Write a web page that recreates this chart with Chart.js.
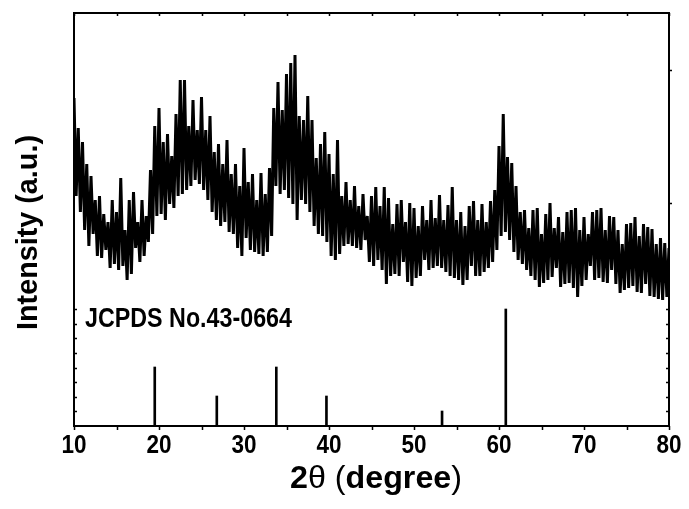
<!DOCTYPE html>
<html>
<head>
<meta charset="utf-8">
<script src="https://cdn.jsdelivr.net/npm/chart.js@4.4.0/dist/chart.umd.min.js"></script>
<style>
  html, body { margin: 0; padding: 0; background: #fff; }
  #xrd { display: block; }
</style>
</head>
<body>
<canvas id="xrd" width="689" height="509"></canvas>
<script>
// scan 10 -> 80 deg, step 0.25 deg (intensity in arbitrary units)
const scanStart = 10;
const scanStep = 0.25;
const intensity = [
  328, 230, 298, 214,  284, 196, 262, 180,  250, 192, 226, 170,  230, 168, 212, 176,
  204, 158, 226, 162,  214, 156, 248, 160,  196, 146, 226, 152,  234, 178, 204, 164,
  226, 170, 210, 184,  256, 192, 300, 210,  318, 212, 284, 206,  292, 222, 270, 218,
  312, 230, 346, 232,  346, 236, 300, 240,  326, 246, 296, 242,  329, 236, 296, 226,
  310, 214, 274, 206,  282, 200, 262, 204,  286, 194, 252, 192,  262, 178, 240, 170,
  278, 188, 244, 176,  252, 174, 226, 172,  253, 170, 232, 174,  258, 190, 318, 240,
  344, 232, 316, 236,  352, 228, 363, 222,  371, 206, 310, 226,  306, 222, 330, 214,
  306, 200, 268, 192,  282, 190, 294, 184,  272, 170, 252, 166,  286, 172, 230, 180,
  244, 182, 226, 180,  240, 178, 220, 176,  232, 186, 210, 164,  230, 160, 239, 166,
  220, 156, 239, 142,  228, 150, 202, 152,  222, 150, 226, 164,  204, 144, 223, 140,
  218, 148, 200, 150,  220, 166, 206, 156,  226, 158, 208, 160,  231, 158, 206, 154,
  221, 150, 239, 148,  206, 146, 214, 141,  200, 146, 220, 160,  225, 150, 206, 150,
  222, 154, 204, 158,  225, 164, 236, 176,  280, 190, 312, 194,  269, 186, 263, 174,
  240, 166, 214, 162,  216, 156, 198, 150,  216, 146, 218, 139,  192, 143, 212, 146,
  223, 149, 198, 158,  209, 139, 194, 142,  214, 143, 216, 138,  218, 129, 196, 140,
  209, 146, 192, 160,  214, 146, 216, 148,  218, 144, 196, 143,  210, 156, 209, 142,
  196, 133, 182, 136,  202, 138, 203, 140,  209, 134, 190, 133,  202, 142, 199, 130,
  197, 129, 182, 127,  188, 126, 183, 129,  178
];

// JCPDS No.43-0664 reference lines
const refAngles = [19.5, 26.8, 33.8, 39.7, 53.3, 60.8];
const refHeights = [59, 30, 59, 30, 15, 117];

const xTicks = [10, 20, 30, 40, 50, 60, 70, 80];
const xMinorTicks = [15, 25, 35, 45, 55, 65, 75];
const lowerPanelTicks = [14.6, 29.3, 43.9, 58.5, 73.1, 87.8, 102.4, 117];
const upperRightTicks = [223, 356];

const scanPoints = intensity.map((v, i) => ({ x: scanStart + i * scanStep, y: v }));
const refPoints = refAngles.map((a, i) => ({ x: a, y: refHeights[i] }));

const FONT = '"Liberation Sans", Arial, sans-serif';

// draw text pieces squeezed/stretched to a given width
function fitText(ctx, parts, left, baseline, width) {
  let total = 0;
  parts.forEach(p => { ctx.font = p[1]; total += ctx.measureText(p[0]).width; });
  ctx.save();
  ctx.translate(left, baseline);
  ctx.scale(width / total, 1);
  ctx.textAlign = 'left';
  ctx.textBaseline = 'alphabetic';
  let x = 0;
  parts.forEach(p => {
    ctx.font = p[1];
    ctx.fillText(p[0], x, 0);
    x += ctx.measureText(p[0]).width;
  });
  ctx.restore();
}

// frame, ticks and texts
const frame = {
  id: 'frame',
  afterDraw(chart) {
    const ctx = chart.ctx;
    const a = chart.chartArea;
    const xs = chart.scales.x;
    const ys = chart.scales.y;

    ctx.save();
    ctx.strokeStyle = '#000';
    ctx.fillStyle = '#000';
    ctx.lineWidth = 2;
    ctx.strokeRect(a.left, a.top, a.right - a.left, a.bottom - a.top);

    ctx.lineWidth = 1.5;
    ctx.beginPath();
    xTicks.concat(xMinorTicks).forEach(t => {
      const px = Math.round(xs.getPixelForValue(t)) + 0.5;
      ctx.moveTo(px, a.bottom);
      ctx.lineTo(px, a.bottom + 4);
      ctx.moveTo(px, a.top);
      ctx.lineTo(px, a.top + 3);
    });
    lowerPanelTicks.forEach(t => {
      const py = Math.round(ys.getPixelForValue(t)) + 0.5;
      ctx.moveTo(a.left, py);
      ctx.lineTo(a.left + 3, py);
      ctx.moveTo(a.right, py);
      ctx.lineTo(a.right - 3, py);
    });
    upperRightTicks.forEach(t => {
      const py = Math.round(ys.getPixelForValue(t)) + 0.5;
      ctx.moveTo(a.right, py);
      ctx.lineTo(a.right + 3, py);
    });
    ctx.stroke();

    // tick labels
    ctx.font = 'bold 25px ' + FONT;
    ctx.textAlign = 'center';
    ctx.textBaseline = 'alphabetic';
    xTicks.forEach(t => {
      ctx.save();
      ctx.translate(xs.getPixelForValue(t), 453);
      ctx.scale(0.9, 1);
      ctx.fillText(String(t), 0, 0);
      ctx.restore();
    });

    // x title
    fitText(ctx, [
      ['2', 'bold 31px ' + FONT],
      ['\u03B8', '31px ' + FONT],
      [' (', '31px ' + FONT],
      ['degree', 'bold 31px ' + FONT],
      [')', '31px ' + FONT]
    ], 290, 488, 172);

    // y title
    ctx.save();
    ctx.translate(37, 330);
    ctx.rotate(-Math.PI / 2);
    fitText(ctx, [['Intensity (a.u.)', 'bold 30px ' + FONT]], 0, 0, 195);
    ctx.restore();

    // reference card label
    fitText(ctx, [['JCPDS No.43-0664', 'bold 27px ' + FONT]], 85, 327, 207);

    ctx.restore();
  }
};

new Chart(document.getElementById('xrd'), {
  type: 'line',
  data: {
    datasets: [
      {
        type: 'line',
        data: scanPoints,
        borderColor: '#000',
        borderWidth: 3,
        pointRadius: 0,
        tension: 0,
        fill: false
      },
      {
        type: 'bar',
        data: refPoints,
        backgroundColor: '#000',
        borderWidth: 0,
        barThickness: 2
      }
    ]
  },
  options: {
    responsive: false,
    animation: false,
    devicePixelRatio: 1,
    layout: { padding: { left: 74, right: 20, top: 13, bottom: 83 } },
    plugins: {
      legend: { display: false },
      tooltip: { enabled: false }
    },
    scales: {
      x: { type: 'linear', min: 10, max: 80, offset: false, display: false },
      y: { type: 'linear', min: 0, max: 413, display: false }
    }
  },
  plugins: [frame]
});
</script>
</body>
</html>
